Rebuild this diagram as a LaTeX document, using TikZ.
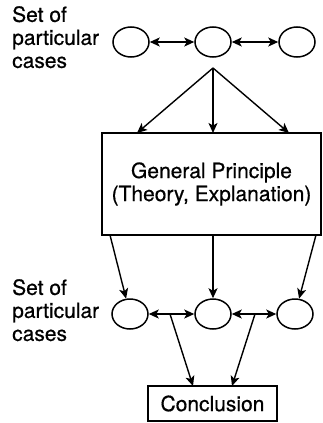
\documentclass[tikz,border=0pt]{standalone}
\usepackage{fontspec}
\setmainfont{TeX Gyre Heros}[UprightFeatures={FakeBold=0.6}]
\usetikzlibrary{arrows.meta,shapes.geometric}
\begin{document}
\begin{tikzpicture}[x=1pt,y=-1pt,
  every node/.style={font=\fontsize{21}{23}\selectfont},
  caseell/.style={draw,ellipse,line width=1.5pt,minimum width=36pt,minimum height=30pt,inner sep=0pt},
  conn/.style={line width=1.4pt,-{Stealth[length=10pt,width=9pt,inset=2.5pt]}},
  dconn/.style={line width=1.4pt,{Stealth[length=10pt,width=9pt,inset=2.5pt]}-{Stealth[length=10pt,width=9pt,inset=2.5pt]}},
  boxnode/.style={draw,line width=1.5pt,inner sep=0pt,align=center},
  lbl/.style={anchor=north west,inner sep=0pt,align=left}]
\useasboundingbox (0,0) rectangle (322,423);
% top row
\node[lbl] (toplabel) at (12,6) {Set of\\particular\\cases};
\node[caseell] (t1) at (131,42) {};
\node[caseell] (t2) at (213,42) {};
\node[caseell] (t3) at (297,42) {};
\draw[dconn] (t1) -- (t2);
\draw[dconn] (t2) -- (t3);
% general principle
\node[boxnode,minimum width=219pt,minimum height=102pt] (gp) at (211.5,184) {General Principle\\(Theory, Explanation)};
\coordinate (fan) at (213,68);
\coordinate (gpa) at (137,133);
\coordinate (gpb) at (213,133);
\coordinate (gpc) at (289,133);
\draw[conn] (fan) -- (gpa);
\draw[conn] (fan) -- (gpb);
\draw[conn] (fan) -- (gpc);
% bottom row
\node[lbl] (botlabel) at (12,279) {Set of\\particular\\cases};
\node[caseell] (b1) at (130,314) {};
\node[caseell] (b2) at (213,314) {};
\node[caseell] (b3) at (295,314) {};
\draw[dconn] (b1) -- (b2);
\draw[dconn] (b2) -- (b3);
\coordinate (gpl) at (110,235);
\coordinate (gpm) at (213,235);
\coordinate (gpr) at (316,235);
\draw[conn] (gpl) -- (b1);
\draw[conn] (gpm) -- (b2);
\draw[conn] (gpr) -- (b3);
% conclusion
\node[boxnode,minimum width=129pt,minimum height=35pt] (concl) at (212.5,403.5) {Conclusion};
\coordinate (s1) at (170,314);
\coordinate (s2) at (255,314);
\coordinate (c1) at (193,386);
\coordinate (c2) at (232,386);
\draw[conn] (s1) -- (c1);
\draw[conn] (s2) -- (c2);
\end{tikzpicture}
\end{document}
